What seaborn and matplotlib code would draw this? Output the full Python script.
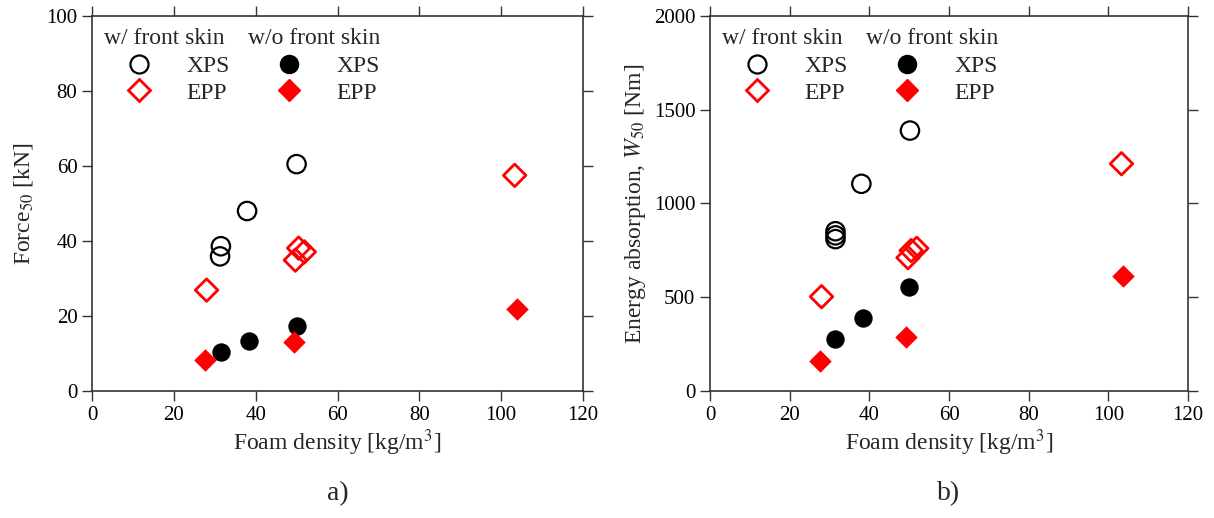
import numpy as np
import pandas as pd
import seaborn as sns
import matplotlib.pyplot as plt
from matplotlib.lines import Line2D

# data
xps_density_w = [31.5, 31.3, 37.9, 50.0]
xps_force_w = [38.6, 35.9, 48.0, 60.5]
xps_density_e = [31.5, 31.5, 31.5, 38.0, 50.2]
xps_energy_w = [852, 830, 810, 1105, 1389]

epp_density = [28.0, 49.7, 50.5, 51.9, 103.3]
epp_force_w = [26.9, 34.9, 38.1, 37.1, 57.5]
epp_energy_w = [503, 711, 749, 761, 1212]

xps_density_wo = [31.5, 38.3, 50.0]
xps_force_wo = [10.5, 13.3, 17.3]
xps_energy_wo = [275, 387, 553]

epp_density_wo = [27.6, 49.3, 103.8]
epp_force_wo = [8.4, 13.0, 22.0]
epp_energy_wo = [160, 289, 611]

sns.set_style('ticks')
plt.rcParams['font.family'] = ['Liberation Serif', 'DejaVu Serif']
plt.rcParams['mathtext.fontset'] = 'stix'

fig = plt.figure(figsize=(12.14, 5.18), dpi=100)
ax1 = fig.add_axes([92/1214, 127/518, 491/1214, 375/518])
ax2 = fig.add_axes([710/1214, 127/518, 478/1214, 375/518])

ms = 175
red = '#ff0000'

def draw(ax, d_xps_w, y_xps_w, d_epp_w, y_epp_w, d_xps_wo, y_xps_wo, d_epp_wo, y_epp_wo):
    sns.scatterplot(x=d_xps_w, y=y_xps_w, ax=ax, marker='o', s=ms,
                    facecolor='none', edgecolor='black', linewidth=1.6)
    sns.scatterplot(x=d_epp_w, y=y_epp_w, ax=ax, marker='D', s=ms*0.75,
                    facecolor='none', edgecolor=red, linewidth=2.0)
    sns.scatterplot(x=d_xps_wo, y=y_xps_wo, ax=ax, marker='o', s=ms,
                    color='black', edgecolor='black', linewidth=0)
    sns.scatterplot(x=d_epp_wo, y=y_epp_wo, ax=ax, marker='D', s=ms*0.75,
                    color=red, edgecolor=red, linewidth=0)

draw(ax1, xps_density_w, xps_force_w, epp_density, epp_force_w,
     xps_density_wo, xps_force_wo, epp_density_wo, epp_force_wo)
draw(ax2, xps_density_e, xps_energy_w, epp_density, epp_energy_w,
     xps_density_wo, xps_energy_wo, epp_density_wo, epp_energy_wo)

ax1.set_ylim(0, 100)
ax1.set_yticks(np.arange(0, 101, 20))
ax2.set_ylim(0, 2000)
ax2.set_yticks(np.arange(0, 2001, 500))
ax1.set_ylabel('Force$_{50}$ [kN]', fontsize=17, labelpad=8)
ax2.set_ylabel('Energy absorption, $W_{50}$ [Nm]', fontsize=17, labelpad=4)

for ax, tag in [(ax1, 'a)'), (ax2, 'b)')]:
    ax.set_xlim(0, 120)
    ax.set_xticks(np.arange(0, 121, 20))
    ax.set_xlabel('Foam density [kg/m$^3$]', fontsize=17, labelpad=2)
    ax.tick_params(direction='out', length=7, width=1, colors='#333333',
                   labelcolor='black', labelsize=15, top=True, right=True)
    for sp in ax.spines.values():
        sp.set_visible(True)
        sp.set_color('#333333')
        sp.set_linewidth(1.2)
    ax.text(0.5, -0.24, tag, transform=ax.transAxes, ha='center',
            va='top', fontsize=20)

    w = ax.get_position().width * 1214
    ax.text(12/w, 0.94, 'w/ front skin', transform=ax.transAxes,
            ha='left', va='center', fontsize=17)
    ax.text(156/w, 0.94, 'w/o front skin', transform=ax.transAxes,
            ha='left', va='center', fontsize=17)

    handles = [
        Line2D([], [], ls='none', marker='o', ms=13, mfc='none', mec='black', mew=1.6),
        Line2D([], [], ls='none', marker='D', ms=11, mfc='none', mec=red, mew=2.0),
        Line2D([], [], ls='none', marker='o', ms=13, mfc='black', mec='black'),
        Line2D([], [], ls='none', marker='D', ms=11, mfc=red, mec=red),
    ]
    ax.legend(handles, ['XPS', 'EPP', 'XPS', 'EPP'], ncol=2, frameon=False,
              loc='upper left', bbox_to_anchor=(33/w, 0.895), fontsize=17,
              handlelength=1.2, handletextpad=1.4, columnspacing=1.92,
              labelspacing=0.22, borderaxespad=0, borderpad=0)

fig.savefig('out.png', dpi=100)
